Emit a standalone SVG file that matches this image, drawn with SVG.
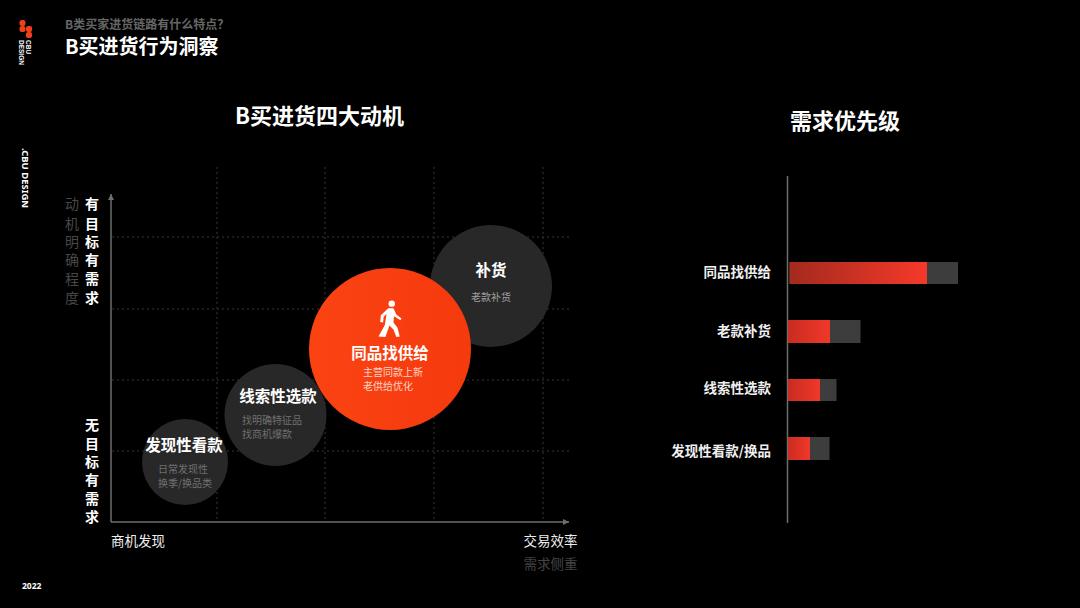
<svg xmlns="http://www.w3.org/2000/svg" width="1080" height="608" viewBox="0 0 1080 608">
<defs>
<linearGradient id="b1" x1="0" x2="1" y1="0" y2="0"><stop offset="0" stop-color="#a32a1e"/><stop offset="1" stop-color="#f5392a"/></linearGradient>
<linearGradient id="b2" x1="0" x2="1" y1="0" y2="0"><stop offset="0" stop-color="#c92c20"/><stop offset="1" stop-color="#f0382a"/></linearGradient>
<linearGradient id="red" x1="0" x2="1" y1="0" y2="0"><stop offset="0" stop-color="#fb4312"/><stop offset="1" stop-color="#f53a0e"/></linearGradient>
<marker id="arr" markerWidth="8" markerHeight="8" refX="6" refY="3" orient="auto" markerUnits="userSpaceOnUse"><path d="M0 0L6 3L0 6Z" fill="#6e6e6e"/></marker>
</defs>
<style>
text{font-family:"Noto Sans CJK SC","Noto Sans",sans-serif;fill:#fff}
.b{font-weight:700}
.m{text-anchor:middle}
.e{text-anchor:end}
.g{stroke:#363636;stroke-width:1;stroke-dasharray:2 3;fill:none}
.ax{stroke:#6e6e6e;stroke-width:1.5;fill:none}
.c{fill:#282828}
.s{font-size:10px;fill:#707070}
.t{font-size:15.500px;font-weight:700}
.y{font-size:14px;font-weight:700}
.yg{font-size:14px;fill:#484848}
.l{font-size:13.500px;font-weight:700;fill:#f0f0f0}
.r{fill:#3d3d3d}
</style>
<rect width="1080" height="608" fill="#000"/>
<g id="logo">
<g fill="#f0401a"><rect x="19.500" y="20" width="6" height="6" rx="2.500"/><rect x="19.500" y="26" width="6" height="6" rx="2.500"/><rect x="26" y="26" width="6" height="6" rx="2"/><rect x="26" y="32" width="6" height="6" rx="2"/></g>
<text transform="translate(25.500 40) rotate(90)" style="font-size:6.500px;font-weight:700;font-family:'Liberation Sans',sans-serif">CBU</text>
<text transform="translate(19 40) rotate(90)" style="font-size:6.500px;font-weight:700;font-family:'Liberation Sans',sans-serif">DESIGN</text>
</g>
<g id="side"><text transform="translate(22 148) rotate(90)" style="font-size:9.500px;font-weight:700;font-family:'Noto Sans',sans-serif">.CBU DESIGN</text></g>
<g id="header">
<text x="65" y="29" class="b" style="font-size:12px;fill:#666">B类买家进货链路有什么特点？</text>
<text x="65" y="54" class="b" style="font-size:20px">B买进货行为洞察</text>
</g>
<text x="319.500" y="124" class="b m" style="font-size:22px">B买进货四大动机</text>
<text x="845" y="129" class="b m" style="font-size:22px">需求优先级</text>
<text x="22" y="589" class="b" style="font-size:8.500px;font-family:'Noto Sans',sans-serif">2022</text>
<g id="connectors">
<path class="g" d="M217 167V522M325 167V522M434 167V522M543 167V522M112 237H570M112 309H570M112 380H570M112 451H570"/>
<path class="ax" d="M111 522V194" marker-end="url(#arr)"/>
<path class="ax" d="M111 522H569" marker-end="url(#arr)"/>
<path d="M787.500 176V523" stroke="#6e6e6e" stroke-width="1.500" fill="none"/>
</g>
<g id="yaxis">
<g><text x="72" y="209" class="m yg">动</text><text x="72" y="229" class="m yg">机</text><text x="72" y="247" class="m yg">明</text><text x="72" y="265" class="m yg">确</text><text x="72" y="284" class="m yg">程</text><text x="72" y="303" class="m yg">度</text></g>
<text x="92" y="209" class="m y">有</text><text x="92" y="229" class="m y">目</text><text x="92" y="247" class="m y">标</text><text x="92" y="265" class="m y">有</text><text x="92" y="284" class="m y">需</text><text x="92" y="303" class="m y">求</text>
<text x="92" y="430" class="m y">无</text><text x="92" y="449" class="m y">目</text><text x="92" y="467" class="m y">标</text><text x="92" y="485" class="m y">有</text><text x="92" y="504" class="m y">需</text><text x="92" y="522" class="m y">求</text>
</g>
<g id="xaxis">
<text x="111" y="546" style="font-size:13.500px;fill:#eee">商机发现</text>
<text x="550.500" y="546" class="m" style="font-size:13.500px;fill:#eee">交易效率</text>
<text x="550.500" y="569" class="m" style="font-size:13.500px;fill:#444">需求侧重</text>
</g>
<g id="n4"><circle class="c" cx="491" cy="286" r="61"/><text x="491" y="276" class="m t">补货</text><text x="491" y="301" class="m s" style="fill:#a0a0a0">老款补货</text></g>
<g id="n3"><circle class="c" cx="275.500" cy="415" r="51"/><text x="278" y="402" class="m t">线索性选款</text><text x="242" y="424" class="s">找明确特征品</text><text x="242" y="438" class="s">找商机爆款</text></g>
<g id="n2"><circle class="c" cx="185" cy="462" r="43"/><text x="184" y="451" class="m t">发现性看款</text><text x="158" y="473" class="s">日常发现性</text><text x="158" y="487" class="s">换季/换品类</text></g>
<g id="n1"><circle cx="390" cy="349" r="81" fill="url(#red)"/>
<g id="walk" fill="#fff" transform="translate(390 318) scale(1.15) translate(-390 -318)"><circle cx="391.500" cy="305.500" r="2.800"/>
<path d="M388.500 309.500L393 309.500L395.500 315L400 318.500L399 320L393.500 316.500L393 322L396.500 326.500L398.500 334L395.500 334.500L393 328L389.500 324.500L386 334.500L380 334L385.500 324L387 314.500L384.500 317L384 322L381.500 321.500L382 315.500Z"/></g>
<text x="390" y="359" class="m t" style="font-size:15.500px">同品找供给</text><text x="363" y="376" style="font-size:10px;fill:#fbd5c8">主营同款上新</text><text x="363" y="390" style="font-size:10px;fill:#fbd5c8">老供给优化</text></g>
<g id="bars">
<g id="b-1"><rect class="r" x="789.500" y="262" width="168.500" height="22"/><rect x="789.500" y="262" width="137.500" height="22" fill="url(#b1)"/><text x="771" y="277" class="e l">同品找供给</text></g>
<g id="b-2"><rect class="r" x="788" y="320" width="72.500" height="23"/><rect x="788" y="320" width="42" height="23" fill="url(#b2)"/><text x="771" y="336" class="e l">老款补货</text></g>
<g id="b-3"><rect class="r" x="788" y="379" width="48.500" height="22"/><rect x="788" y="379" width="32" height="22" fill="url(#b2)"/><text x="771" y="393" class="e l">线索性选款</text></g>
<g id="b-4"><rect class="r" x="788" y="437" width="41.500" height="23"/><rect x="788" y="437" width="22" height="23" fill="url(#b2)"/><text x="771" y="456" class="e l">发现性看款/换品</text></g>
</g>
</svg>
